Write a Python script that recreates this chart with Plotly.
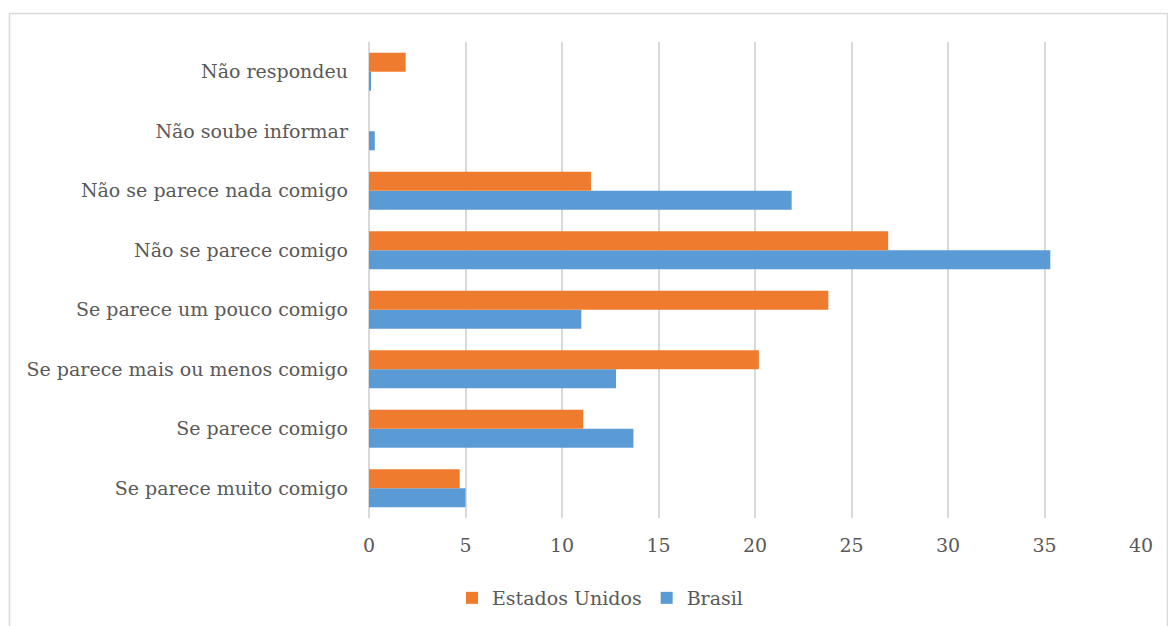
import plotly.graph_objects as go

categories = [
    "Se parece muito comigo",
    "Se parece comigo",
    "Se parece mais ou menos comigo",
    "Se parece um pouco comigo",
    "Não se parece comigo",
    "Não se parece nada comigo",
    "Não soube informar",
    "Não respondeu",
]
brasil = [5.0, 13.7, 12.8, 11.0, 35.3, 21.9, 0.3, 0.1]
estados_unidos = [4.7, 11.1, 20.2, 23.8, 26.9, 11.5, 0.0, 1.9]
x_ticks = [0, 5, 10, 15, 20, 25, 30, 35, 40]

FONT = "DejaVu Serif"
FS = 19

fig = go.Figure()
fig.add_trace(go.Bar(
    y=categories, x=brasil, name="Brasil", orientation="h",
    marker=dict(color="#5B9BD5", line=dict(width=0)),
))
fig.add_trace(go.Bar(
    y=categories, x=estados_unidos, name="Estados Unidos", orientation="h",
    marker=dict(color="#EF7B2F", line=dict(width=0)),
))

W, H = 1168, 626
L, R, T, B = 369, 27, 42, 108
pw, ph = W - L - R, H - T - B

def px_x(p):
    return (p - L) / pw

def px_y(p):
    return (H - B - p) / ph

fig.update_layout(
    width=W, height=H,
    margin=dict(l=L, r=R, t=T, b=B, autoexpand=False),
    paper_bgcolor="white", plot_bgcolor="white",
    font=dict(family=FONT, size=FS, color="#595959"),
    barmode="group", bargap=0.36, bargroupgap=0,
    showlegend=True,
    legend=dict(
        orientation="h", traceorder="reversed",
        x=px_x(600), xanchor="center", y=px_y(598), yanchor="middle",
        font=dict(family=FONT, size=FS, color="#595959"),
        itemwidth=30,
    ),
    xaxis=dict(
        range=[0, 40], tickvals=x_ticks, ticktext=[str(v) for v in x_ticks],
        showgrid=True, gridcolor="#d9d9d9", gridwidth=1.5,
        zeroline=True, zerolinecolor="#d9d9d9", zerolinewidth=1.5,
        showline=False, ticks="", ticklabelstandoff=14, automargin=False,
        tickfont=dict(family=FONT, size=FS, color="#595959"),
    ),
    yaxis=dict(
        categoryorder="array", categoryarray=categories,
        showgrid=False, showline=False, ticks="", ticklabelstandoff=20,
        automargin=False,
        tickfont=dict(family=FONT, size=FS, color="#595959"),
    ),
    shapes=[dict(
        type="rect", xref="paper", yref="paper",
        x0=px_x(9.5), x1=px_x(1167.5), y0=px_y(640), y1=px_y(13.5),
        line=dict(color="#d9d9d9", width=1.5), fillcolor="rgba(0,0,0,0)",
        layer="below",
    )],
)

fig.write_html("out.html")
